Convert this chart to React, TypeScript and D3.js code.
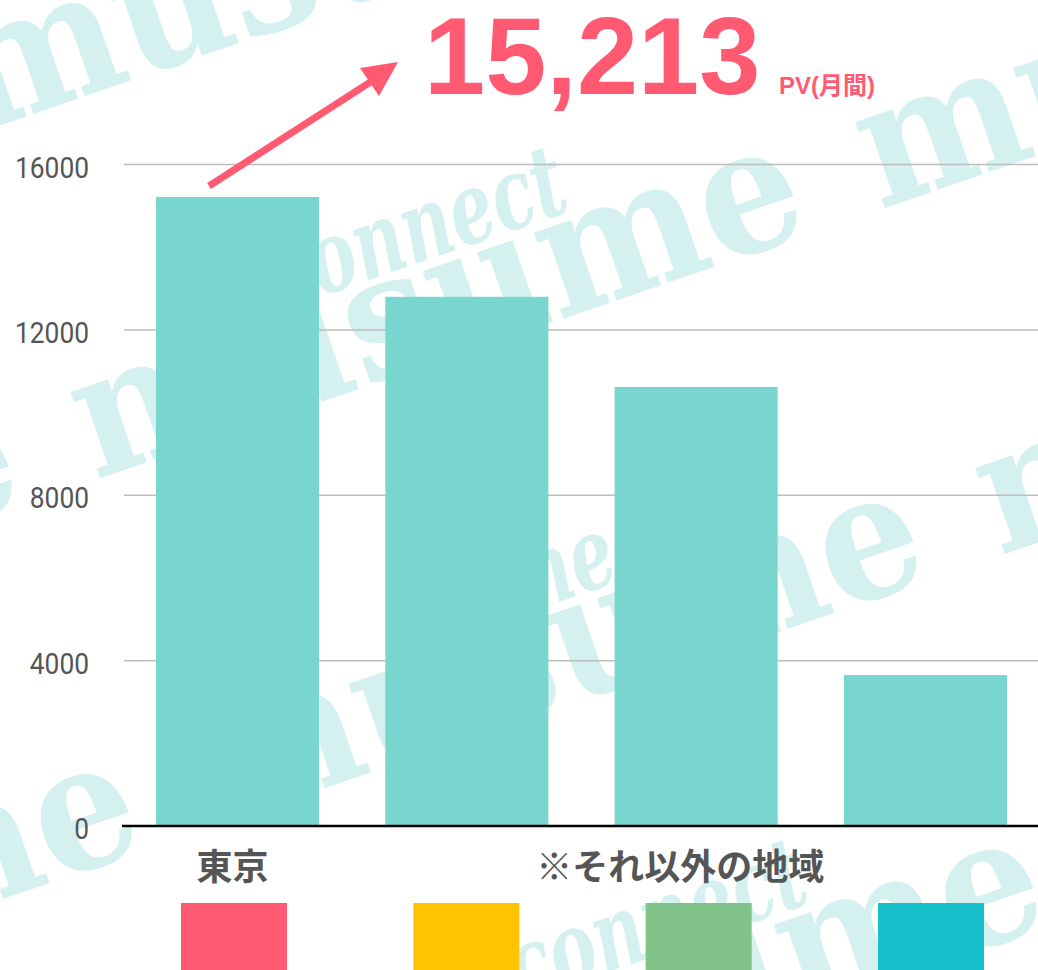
import React from 'react';
import * as d3 from 'd3';

const categories = ['東京', '地域A', '地域B', '地域C'];
const values = [15213, 12800, 10620, 3650];
const yTicks = [0, 4000, 8000, 12000, 16000];
const headline = '15,213';
const headlineUnit = 'PV(月間)';
const tokyoLabel = '東京';
const otherLabel = '※それ以外の地域';
const legendColors = ['#FF5A72', '#FFC300', '#82C38A', '#17C1CB'];
const watermarkWord = 'musume';
const watermarkScript = 'connect';

const W = 1038;
const H = 970;
const PINK = '#FF5A72';
const BAR = '#79D6CE';
const WM = '#D5F1EF';

export default function App() {
  const x = d3.scaleBand<string>().domain(categories).range([156, 1007]).paddingInner(0.289).paddingOuter(0);
  const y = d3.scaleLinear().domain([0, 16000]).range([826, 164.5]);
  const legendX = d3.scalePoint<string>().domain(categories).range([234, 931]);
  const bw = x.bandwidth();

  const lines = [-1, 0, 1, 2];
  const words = [-2, -1, 0, 1, 2];

  const otherCenter = ((x(categories[1]) as number) + (x(categories[3]) as number) + bw) / 2 - 16;

  return (
    <svg width={W} height={H} style={{ position: 'absolute', left: 0, top: 0, background: '#fff' }}>
      <rect x={0} y={0} width={W} height={H} fill="#fff" />
      {/* watermark */}
      <g fill={WM}>
        {lines.map((k) => (
          <g key={k} transform={`translate(${95 + 120 * k},${480 + 346 * k}) rotate(-19)`}>
            {words.map((j) => (
              <g key={j}>
                <text
                  x={j * 830}
                  y={0}
                  fontFamily="'DejaVu Serif', serif"
                  fontWeight={700}
                  fontSize={175}
                  textLength={760}
                  lengthAdjust="spacingAndGlyphs"
                >
                  {watermarkWord}
                </text>
                <text
                  x={j * 830 + 230}
                  y={-100}
                  fontFamily="'DejaVu Serif', serif"
                  fontStyle="italic"
                  fontWeight={700}
                  fontSize={100}
                  textLength={310}
                  lengthAdjust="spacingAndGlyphs"
                >
                  {watermarkScript}
                </text>
              </g>
            ))}
          </g>
        ))}
      </g>

      {/* grid */}
      {yTicks.filter((t) => t > 0).map((t) => (
        <line key={t} x1={124} x2={W} y1={y(t)} y2={y(t)} stroke="#BDBDBD" strokeWidth={1.5} />
      ))}
      {yTicks.map((t) => (
        <text
          key={'l' + t}
          x={89}
          y={y(t) + 3}
          textAnchor="end"
          dominantBaseline="central"
          fontFamily="'Roboto', sans-serif"
          fontSize={29}
          fill="#555"
          textLength={String(t).length * 14.8}
          lengthAdjust="spacingAndGlyphs"
        >
          {t}
        </text>
      ))}

      {/* bars */}
      {categories.map((c, i) => (
        <rect key={c} x={x(c)} y={y(values[i])} width={bw} height={y(0) - y(values[i])} fill={BAR} />
      ))}

      {/* baseline */}
      <line x1={122} x2={W} y1={y(0)} y2={y(0)} stroke="#000" strokeWidth={2.5} />

      {/* x labels */}
      <text
        x={(x(categories[0]) as number) + bw / 2 - 5}
        y={880}
        textAnchor="middle"
        fontFamily="'Noto Sans CJK JP', sans-serif"
        fontWeight={700}
        fontSize={36}
        fill="#555"
      >
        {tokyoLabel}
      </text>
      <text
        x={otherCenter}
        y={880}
        textAnchor="middle"
        fontFamily="'Noto Sans CJK JP', sans-serif"
        fontWeight={700}
        fontSize={36}
        fill="#555"
      >
        {otherLabel}
      </text>

      {/* legend swatches */}
      {categories.map((c, i) => (
        <rect key={'sw' + c} x={(legendX(c) as number) - 53} y={903} width={106} height={70} fill={legendColors[i]} />
      ))}

      {/* arrow */}
      <line x1={209} y1={186} x2={372} y2={81} stroke={PINK} strokeWidth={7} />
      <polygon points="360,68 398,62 379,96" fill={PINK} />

      {/* headline */}
      <text x={424} y={94} fontFamily="'Liberation Sans', Arial, sans-serif" fontWeight={700} fontSize={110} fill={PINK}>
        {headline}
      </text>
      <text
        x={779}
        y={94}
        fontFamily="'Liberation Sans', 'Noto Sans CJK JP', sans-serif"
        fontWeight={700}
        fontSize={24}
        fill={PINK}
      >
        {headlineUnit}
      </text>
    </svg>
  );
}
